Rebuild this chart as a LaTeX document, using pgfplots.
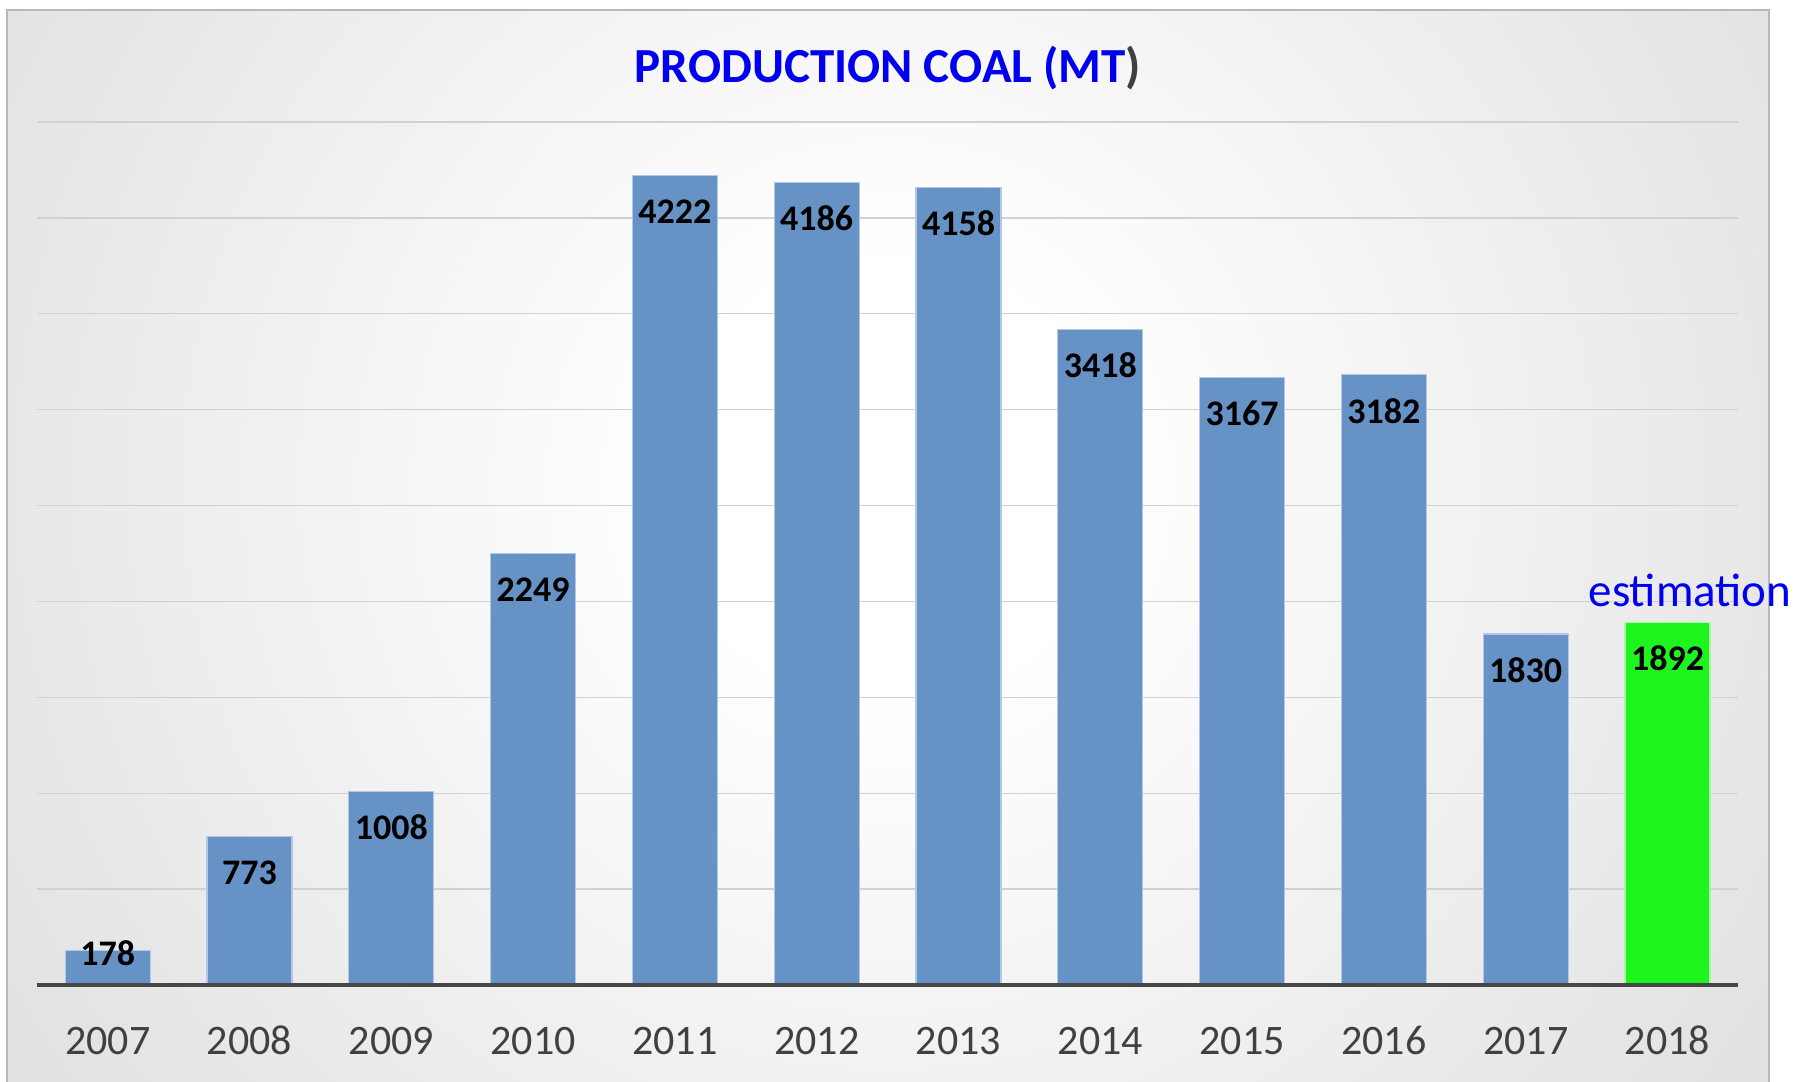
\documentclass[border=0pt]{standalone}
\usepackage{pgfplots}
\pgfplotsset{compat=1.18}
\usepackage{fontspec}
\setmainfont{Carlito}
\definecolor{barblue}{RGB}{103,146,197}
\definecolor{bargreen}{RGB}{30,245,30}
\definecolor{edgeblue}{RGB}{178,200,230}
\definecolor{edgegreen}{RGB}{170,250,170}
\definecolor{ticktext}{RGB}{64,64,64}
\definecolor{titleblue}{RGB}{0,0,240}
\pgfdeclareradialshading{bgshade}{\pgfpoint{0bp}{0bp}}{color(0bp)=(white); color(5bp)=(white); color(50bp)=(black!27)}
\begin{document}
\begin{tikzpicture}
\path[use as bounding box] (0,0) rectangle (903.5pt,540.5pt);
\begin{scope}
\clip (3.5pt,0pt) rectangle (884.5pt,535.5pt);
\shade[shading=bgshade] (444pt,300.5pt) circle (535pt);
\end{scope}
\draw[black!28, line width=1pt] (3.5pt,-1pt) -- (3.5pt,535.5pt) -- (884.5pt,535.5pt) -- (884.5pt,-1pt);
\begin{axis}[
  at={(18.4pt,48pt)}, anchor=south west,
  scale only axis, width=850.8pt, height=431.5pt,
  xmin=-0.5, xmax=11.5, ymin=0, ymax=4500,
  axis line style={draw=none},
  major tick length=0pt,
  xtick={0,1,2,3,4,5,6,7,8,9,10,11},
  xticklabels={2007,2008,2009,2010,2011,2012,2013,2014,2015,2016,2017,2018},
  ytick={500,1000,1500,2000,2500,3000,3500,4000,4500},
  yticklabels={},
  ymajorgrids,
  grid style={black!18, line width=0.7pt},
  xticklabel style={font=\fontsize{21}{24}\selectfont, text=ticktext, anchor=base, yshift=-34.5pt},
  clip=false,
  /pgf/number format/assume math mode=true,
  /pgf/number format/1000 sep={},
  bar width=0.6,
]
\addplot[ybar, bar shift=0pt, fill=barblue, draw=edgeblue, line width=0.6pt,
  nodes near coords,
  every node near coord/.append style={anchor=center, yshift=-18pt, font=\bfseries\fontsize{18}{20}\selectfont, text=black}]
  coordinates {(1,773) (2,1008) (3,2249) (4,4222) (5,4186) (6,4158) (7,3418) (8,3167) (9,3182) (10,1830)};
\addplot[ybar, bar shift=0pt, fill=barblue, draw=edgeblue, line width=0.6pt,
  nodes near coords,
  every node near coord/.append style={anchor=center, yshift=-1.2pt, font=\bfseries\fontsize{18}{20}\selectfont, text=black}]
  coordinates {(0,178)};
\addplot[ybar, bar shift=0pt, fill=bargreen, draw=edgegreen, line width=0.6pt,
  nodes near coords,
  every node near coord/.append style={anchor=center, yshift=-18pt, font=\bfseries\fontsize{18}{20}\selectfont, text=black}]
  coordinates {(11,1892)};
\draw[black!72, line width=2pt] (axis cs:-0.5,0) -- (axis cs:11.5,0);
\end{axis}
\node[anchor=base, font=\bfseries\fontsize{24.5}{30}\selectfont, text=titleblue] at (444pt,499pt) {PRODUCTION COAL (MT\textcolor{ticktext}{)}};
\node[anchor=base, font=\fontsize{23.5}{27}\selectfont, text=titleblue] at (845pt,237pt) {estimation};
\end{tikzpicture}
\end{document}
